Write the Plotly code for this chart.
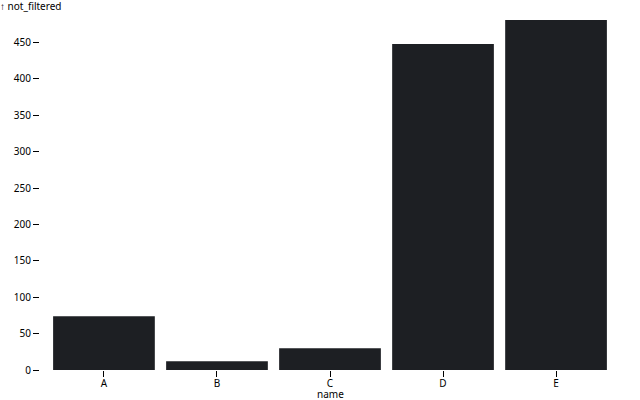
import plotly.graph_objects as go

names = ["A", "B", "C", "D", "E"]
not_filtered = [74, 12, 30, 448, 481]

FONT = "Noto Sans, sans-serif"

fig = go.Figure(go.Bar(x=names, y=not_filtered, marker=dict(color="#1d1f23", line=dict(width=0)), width=0.9,
                       hoverinfo="skip"))

fig.update_layout(
    width=640, height=400,
    margin=dict(l=40, r=20, t=20, b=30, autoexpand=False),
    plot_bgcolor="white", paper_bgcolor="white",
    font=dict(family=FONT, size=10, color="black"),
    showlegend=False,
)
fig.update_xaxes(
    type="category", range=[-0.566, 4.566], showgrid=False, zeroline=False, showline=False,
    ticks="outside", ticklen=6, tickcolor="black", tickwidth=1, automargin=False,
    ticklabelstandoff=-2,
)
fig.update_yaxes(
    range=[0, 481], dtick=50, tick0=0, showgrid=False, zeroline=False, showline=False,
    ticks="outside", ticklen=6, tickcolor="black", tickwidth=1, automargin=False,
)
fig.add_annotation(text="↑ not_filtered", xref="paper", yref="paper", x=-40/580, y=1 + 14/350,
                   xanchor="left", yanchor="middle", showarrow=False, xshift=-2,
                   font=dict(size=10, family=FONT))
fig.add_annotation(text="name", xref="paper", yref="paper", x=(330 - 40) / 580, y=-24/350,
                   xanchor="center", yanchor="middle", showarrow=False, borderpad=0,
                   font=dict(size=10, family=FONT))

fig.write_html("out.html", config={"displayModeBar": False},
               post_script="document.body.style.margin='0';document.body.style.overflow='hidden';")
